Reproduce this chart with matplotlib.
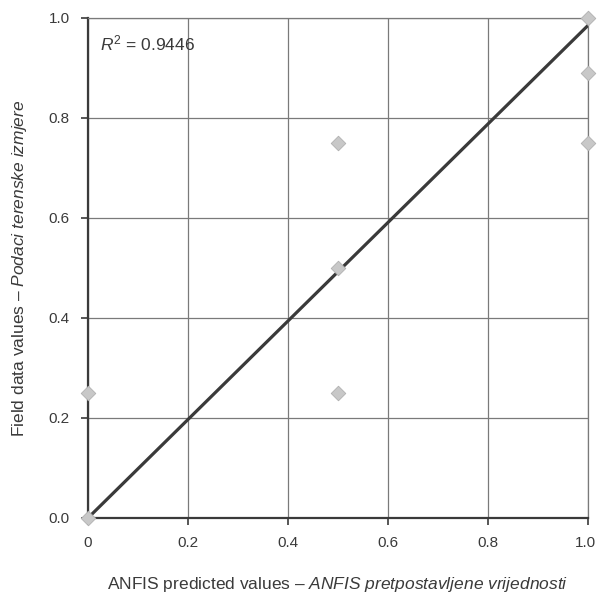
import matplotlib.pyplot as plt
import matplotlib.transforms as mtransforms

plt.rcParams["font.family"] = ["Liberation Sans", "DejaVu Sans"]
plt.rcParams["mathtext.fontset"] = "custom"
plt.rcParams["mathtext.rm"] = "Liberation Sans"
plt.rcParams["mathtext.it"] = "Liberation Sans:italic"

# ANFIS predicted vs field data
predicted = [0.0, 0.0, 0.5, 0.5, 0.5, 1.0, 1.0, 1.0]
field = [0.0, 0.25, 0.25, 0.5, 0.75, 0.75, 0.89, 1.0]

fit_x = [0.0, 1.0]
fit_y = [0.0, 0.985]

x_ticks = [0.0, 0.2, 0.4, 0.6, 0.8, 1.0]
x_tick_labels = ["0", "0.2", "0.4", "0.6", "0.8", "1.0"]
y_ticks = [0.0, 0.2, 0.4, 0.6, 0.8, 1.0]
y_tick_labels = ["0.0", "0.2", "0.4", "0.6", "0.8", "1.0"]

fig = plt.figure(figsize=(5.97, 5.98), dpi=100)
ax = fig.add_axes([0.1474, 0.1338, 0.8375, 0.8362])

ax.set_xlim(0, 1)
ax.set_ylim(0, 1)

ax.grid(True, color="#7a7a7a", linewidth=0.9)
ax.set_axisbelow(True)

ax.plot(fit_x, fit_y, color="#3a3a3a", linewidth=2.3, zorder=3)

ax.scatter(
    predicted,
    field,
    marker="D",
    s=55,
    color="#c8c8c8",
    edgecolor="#b0b0b0",
    linewidth=0.6,
    zorder=4,
    clip_on=False
)

ax.set_xticks(x_ticks)
ax.set_xticklabels(x_tick_labels)
ax.set_yticks(y_ticks)
ax.set_yticklabels(y_tick_labels)

ax.tick_params(axis="both", labelsize=11, colors="#3a3a3a",
               length=5, width=1.2, direction="out", pad=8)

# keep the last x label inside the canvas
last = ax.get_xticklabels()[-1]
last.set_transform(last.get_transform() +
                   mtransforms.ScaledTranslation(-3 / 100, 0, fig.dpi_scale_trans))

for side in ["top", "right"]:
    ax.spines[side].set_color("#7a7a7a")
    ax.spines[side].set_linewidth(0.9)
for side in ["left", "bottom"]:
    ax.spines[side].set_color("#3a3a3a")
    ax.spines[side].set_linewidth(1.6)

ax.set_xlabel(
    "ANFIS predicted values – $\\it{ANFIS\\ pretpostavljene\\ vrijednosti}$",
    fontsize=12.5, color="#3a3a3a", labelpad=18
)
ax.set_ylabel(
    "Field data values – $\\it{Podaci\\ terenske\\ izmjere}$",
    fontsize=12.5, color="#3a3a3a", labelpad=14
)

ax.text(0.025, 0.948, "$\\it{R}^2$ = 0.9446", transform=ax.transAxes,
        fontsize=12.5, color="#3a3a3a", va="center")

plt.savefig("out.png", dpi=100)
plt.close()
